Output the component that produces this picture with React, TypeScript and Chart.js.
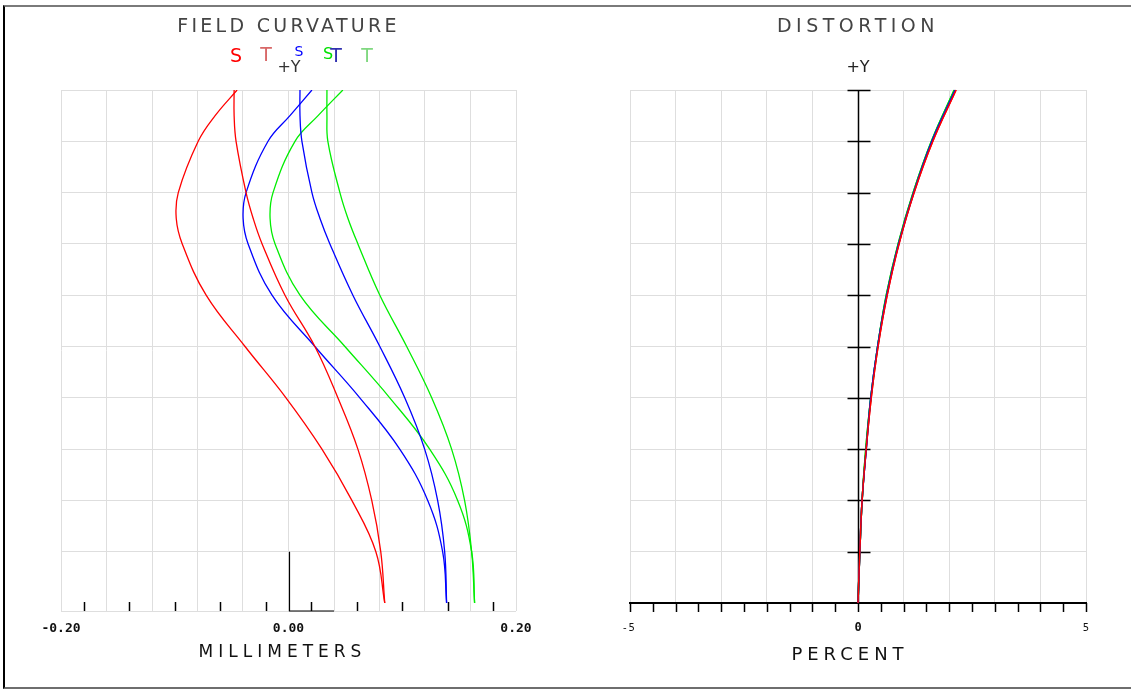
import React, { useEffect, useRef } from "react";
import { Chart, registerables } from "chart.js";

Chart.register(...registerables);

// ---------- FIELD CURVATURE data (x in millimeters, y = relative field +Y) ----------
const fcField = [1, 0.95, 0.9, 0.8, 0.75, 0.7, 0.6, 0.5, 0.4, 0.3, 0.2, 0.1, 0];
const redS = [-0.0452, -0.0645, -0.0794, -0.0969, -0.0987, -0.0934, -0.0724, -0.0382, -0.0022, 0.0294, 0.0557, 0.0768, 0.0846];
const redT = [-0.0478, -0.0478, -0.0461, -0.0373, -0.0311, -0.0232, -0.0031, 0.0232, 0.0434, 0.061, 0.0732, 0.0811, 0.0846];
const blueS = [0.0206, 0.0013, -0.018, -0.0373, -0.0399, -0.0355, -0.0145, 0.0232, 0.0627, 0.0978, 0.1224, 0.1355, 0.139];
const blueT = [0.0101, 0.0101, 0.0118, 0.0206, 0.0276, 0.0364, 0.0566, 0.0803, 0.1022, 0.1197, 0.1311, 0.1373, 0.139];
const greenS = [0.0478, 0.026, 0.0057, -0.0136, -0.0162, -0.0118, 0.0101, 0.0496, 0.089, 0.1241, 0.1487, 0.161, 0.1636];
const greenT = [0.0338, 0.0338, 0.0346, 0.0452, 0.0522, 0.061, 0.0803, 0.1039, 0.1259, 0.1434, 0.1548, 0.161, 0.1636];

const fcTickLabels = ["-0.20", "0.00", "0.20"];
const fcTickValues = [-0.2, 0, 0.2];
const fcMinorTicks = [-0.18, -0.14, -0.1, -0.06, -0.02, 0.02, 0.06, 0.1, 0.14, 0.18];
const fcGridY = [0.1, 0.2, 0.3, 0.4, 0.5, 0.6, 0.7, 0.8, 0.9, 1.0];

// ---------- DISTORTION data (x in percent) ----------
const distField = [0, 0.1, 0.2, 0.3, 0.4, 0.5, 0.6, 0.7, 0.8, 0.9, 1.0];
const distGreen = [0, 0.04, 0.09, 0.17, 0.28, 0.43, 0.62, 0.88, 1.21, 1.61, 2.11];
const distBlue = [0, 0.04, 0.09, 0.18, 0.28, 0.43, 0.63, 0.89, 1.22, 1.62, 2.13];
const distRed = [0, 0.04, 0.09, 0.18, 0.29, 0.44, 0.64, 0.9, 1.23, 1.64, 2.15];
const distTickLabels = ["-5", "0", "5"];
const distTickValues = [-5, 0, 5];
const distMinorTicks = [-5, -4.5, -4, -3.5, -3, -2.5, -2, -1.5, -1, -0.5, 0, 0.5, 1, 1.5, 2, 2.5, 3, 3.5, 4, 4.5, 5];

const FC_MIN = -0.0156;
const GRID = "#dedede";

function pts(xs: number[], ys: number[]) {
  return xs.map((x, i) => ({ x, y: ys[i] }));
}

function line(label: string, data: { x: number; y: number }[], color: string, width = 1.3) {
  return {
    label,
    data,
    borderColor: color,
    backgroundColor: color,
    borderWidth: width,
    pointRadius: 0,
    fill: false,
    tension: 0.4,
  };
}

function txt(ctx: CanvasRenderingContext2D, s: string, x: number, y: number, font: string, color: string, spacing = "0px") {
  ctx.save();
  ctx.font = font;
  ctx.fillStyle = color;
  (ctx as any).letterSpacing = spacing;
  ctx.textAlign = "center";
  ctx.textBaseline = "middle";
  ctx.fillText(s, x, y);
  ctx.restore();
}

const leftPlugin = {
  id: "fcDecor",
  afterDraw(chart: any) {
    const ctx: CanvasRenderingContext2D = chart.ctx;
    const xs = chart.scales.x;
    const ys = chart.scales.y;
    const a = chart.chartArea;
    ctx.save();
    ctx.strokeStyle = "#000";
    ctx.lineWidth = 1.5;
    for (const v of fcMinorTicks) {
      const px = Math.round(xs.getPixelForValue(v)) + 0.5;
      ctx.beginPath();
      ctx.moveTo(px, a.bottom);
      ctx.lineTo(px, a.bottom - 9);
      ctx.stroke();
    }
    ctx.lineWidth = 1.2;
    const x0 = Math.round(xs.getPixelForValue(0)) + 0.5;
    ctx.beginPath();
    ctx.moveTo(x0, ys.getPixelForValue(0.1));
    ctx.lineTo(x0, a.bottom);
    ctx.lineTo(xs.getPixelForValue(0.04), a.bottom);
    ctx.stroke();
    ctx.restore();

    fcTickValues.forEach((v, i) => {
      txt(ctx, fcTickLabels[i], xs.getPixelForValue(v), a.bottom + 18, "bold 13px 'DejaVu Sans Mono'", "#111");
    });
    const cx = (a.left + a.right) / 2;
    txt(ctx, "MILLIMETERS", cx - 6, 653, "17px 'DejaVu Sans'", "#111", "5px");
    txt(ctx, "FIELD CURVATURE", cx, 27, "19px 'DejaVu Sans'", "#444", "3.3px");
    // legend
    txt(ctx, "S", 236, 57, "19px 'DejaVu Sans'", "#ff0000");
    txt(ctx, "T", 266, 56, "19px 'DejaVu Sans'", "#d86868");
    txt(ctx, "S", 299, 52, "14px 'DejaVu Sans'", "#0000ff");
    txt(ctx, "+Y", 289, 68, "16px 'DejaVu Sans'", "#333");
    txt(ctx, "S", 328, 55, "16px 'DejaVu Sans'", "#00e000");
    txt(ctx, "T", 336, 57, "19px 'DejaVu Sans'", "#3030b0");
    txt(ctx, "T", 367, 57, "19px 'DejaVu Sans'", "#80d880");
  },
};

const rightPlugin = {
  id: "distDecor",
  afterDraw(chart: any) {
    const ctx: CanvasRenderingContext2D = chart.ctx;
    const xs = chart.scales.x;
    const ys = chart.scales.y;
    const a = chart.chartArea;
    ctx.save();
    ctx.strokeStyle = "#000";
    ctx.lineWidth = 2;
    ctx.beginPath();
    ctx.moveTo(a.left - 1, a.bottom);
    ctx.lineTo(a.right + 1, a.bottom);
    ctx.stroke();
    ctx.lineWidth = 1.5;
    for (const v of distMinorTicks) {
      const px = Math.round(xs.getPixelForValue(v)) + 0.5;
      ctx.beginPath();
      ctx.moveTo(px, a.bottom);
      ctx.lineTo(px, a.bottom + 9);
      ctx.stroke();
    }
    const x0 = Math.round(xs.getPixelForValue(0)) + 0.5;
    ctx.beginPath();
    ctx.moveTo(x0, a.top);
    ctx.lineTo(x0, a.bottom);
    ctx.stroke();
    for (const f of fcGridY) {
      const py = Math.round(ys.getPixelForValue(f)) + 0.5;
      ctx.beginPath();
      ctx.moveTo(x0 - 11, py);
      ctx.lineTo(x0 + 12, py);
      ctx.stroke();
    }
    ctx.restore();

    // redraw datasets above the axis line
    chart.getSortedVisibleDatasetMetas().forEach((m: any) => {
      m.controller.draw();
    });

    txt(ctx, distTickLabels[0], xs.getPixelForValue(distTickValues[0]), a.bottom + 25, "10px 'DejaVu Sans'", "#111", "2px");
    txt(ctx, distTickLabels[1], xs.getPixelForValue(distTickValues[1]), a.bottom + 25, "bold 12px 'DejaVu Sans Mono'", "#111");
    txt(ctx, distTickLabels[2], xs.getPixelForValue(distTickValues[2]), a.bottom + 25, "10px 'DejaVu Sans'", "#111");
    const c0 = xs.getPixelForValue(0);
    txt(ctx, "PERCENT", c0 - 8, 655, "18px 'DejaVu Sans'", "#111", "5px");
    txt(ctx, "DISTORTION", c0, 27, "19px 'DejaVu Sans'", "#444", "4.5px");
    txt(ctx, "+Y", c0, 68, "16px 'DejaVu Sans'", "#222");
  },
};

export default function App() {
  const leftRef = useRef<HTMLCanvasElement>(null);
  const rightRef = useRef<HTMLCanvasElement>(null);

  useEffect(() => {
    document.body.style.margin = "0";
    document.body.style.background = "#fff";
    document.body.style.overflow = "hidden";
    const left = new Chart(leftRef.current!, {
      type: "line",
      data: {
        datasets: [
          line("S red", pts(redS, fcField), "#ff0000"),
          line("T red", pts(redT, fcField), "#ff0000"),
          line("S blue", pts(blueS, fcField), "#0000ff"),
          line("T blue", pts(blueT, fcField), "#0000ff"),
          line("S green", pts(greenS, fcField), "#00ee00"),
          line("T green", pts(greenT, fcField), "#00ee00"),
        ] as any,
      },
      options: {
        animation: false,
        responsive: false,
        devicePixelRatio: 1,
        indexAxis: "y",
        layout: { padding: { left: 61, right: 49, top: 90, bottom: 82 } },
        plugins: { legend: { display: false }, tooltip: { enabled: false }, title: { display: false } },
        scales: {
          x: {
            type: "linear",
            min: -0.2,
            max: 0.2,
            afterBuildTicks: (s: any) => {
              s.ticks = [-0.2, -0.16, -0.12, -0.08, -0.04, 0, 0.04, 0.08, 0.12, 0.16, 0.2].map((v) => ({ value: v }));
            },
            ticks: { display: false },
            grid: { color: GRID, lineWidth: 1, drawTicks: false },
            border: { display: false },
          },
          y: {
            type: "linear",
            min: FC_MIN,
            max: 1,
            afterBuildTicks: (s: any) => {
              s.ticks = [FC_MIN, ...fcGridY].map((v) => ({ value: v }));
            },
            ticks: { display: false },
            grid: { color: GRID, lineWidth: 1, drawTicks: false },
            border: { display: false },
          },
        },
      } as any,
      plugins: [leftPlugin],
    });

    const right = new Chart(rightRef.current!, {
      type: "line",
      data: {
        datasets: [
          line("green", pts(distGreen, distField), "#00dd00", 1.5),
          line("blue", pts(distBlue, distField), "#0000ff", 1.5),
          line("red", pts(distRed, distField), "#ff0000", 1.5),
        ] as any,
      },
      options: {
        animation: false,
        responsive: false,
        devicePixelRatio: 1,
        indexAxis: "y",
        layout: { padding: { left: 65, right: 45, top: 90, bottom: 90 } },
        plugins: { legend: { display: false }, tooltip: { enabled: false }, title: { display: false } },
        scales: {
          x: {
            type: "linear",
            min: -5,
            max: 5,
            afterBuildTicks: (s: any) => {
              s.ticks = [-5, -4, -3, -2, -1, 0, 1, 2, 3, 4, 5].map((v) => ({ value: v }));
            },
            ticks: { display: false },
            grid: { color: GRID, lineWidth: 1, drawTicks: false },
            border: { display: false },
          },
          y: {
            type: "linear",
            min: 0,
            max: 1,
            afterBuildTicks: (s: any) => {
              s.ticks = [0, ...fcGridY].map((v) => ({ value: v }));
            },
            ticks: { display: false },
            grid: { color: GRID, lineWidth: 1, drawTicks: false },
            border: { display: false },
          },
        },
      } as any,
      plugins: [rightPlugin],
    });

    return () => {
      left.destroy();
      right.destroy();
    };
  }, []);

  return (
    <div style={{ position: "relative", width: 1131, height: 693, background: "#fff", overflow: "hidden" }}>
      <div
        style={{
          position: "absolute",
          left: 3,
          top: 5,
          width: 1140,
          height: 680,
          borderLeft: "2px solid #000",
          borderTop: "2px solid #7a7a7a",
          borderBottom: "2px solid #6e6e6e",
        }}
      />
      <canvas ref={leftRef} width={565} height={693} style={{ position: "absolute", left: 0, top: 0, width: 565, height: 693 }} />
      <canvas ref={rightRef} width={566} height={693} style={{ position: "absolute", left: 565, top: 0, width: 566, height: 693 }} />
      <div style={{ position: "absolute", left: 1128, top: 8, width: 3, height: 678, background: "#fff" }} />
    </div>
  );
}
